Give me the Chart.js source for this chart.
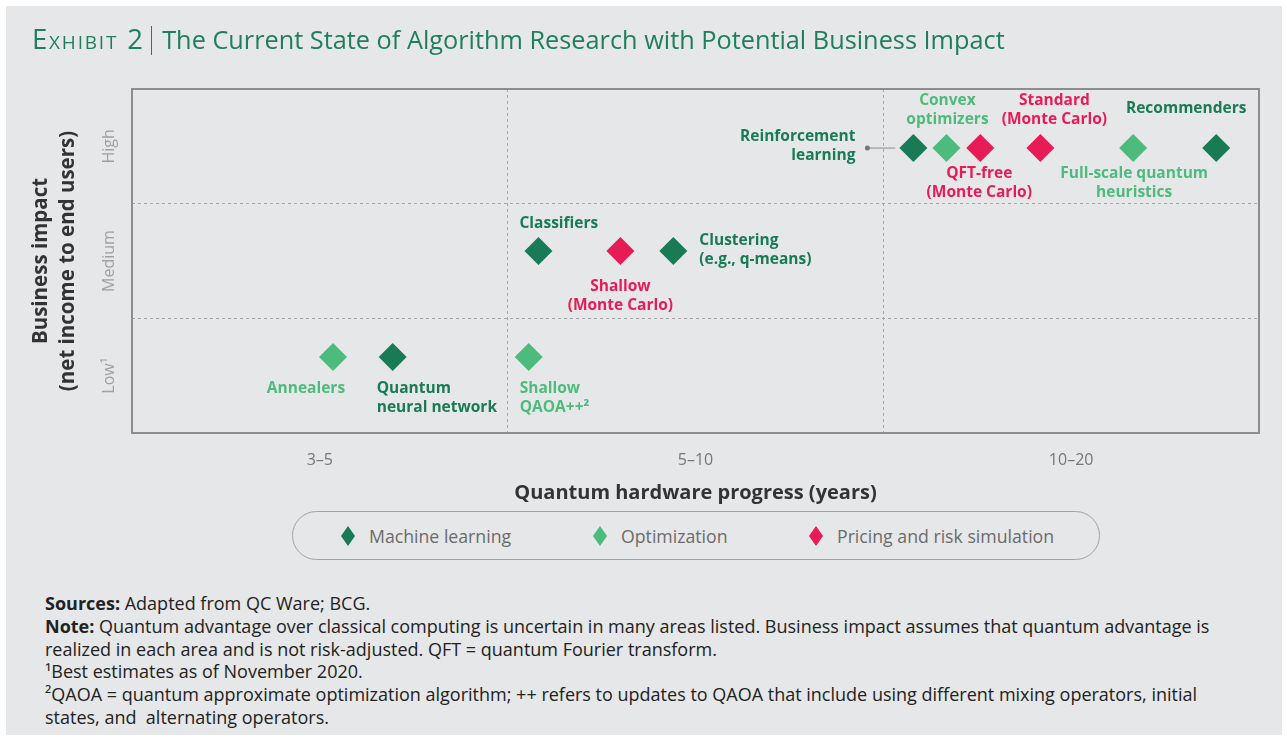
<!DOCTYPE html>
<html>
<head>
<meta charset="utf-8">
<script src="https://cdn.jsdelivr.net/npm/chart.js@4.4.0/dist/chart.umd.min.js"></script>
<style>
  html, body { margin: 0; padding: 0; background: #fff; }
  body { width: 1287px; height: 740px; position: relative; overflow: hidden; font-family: 'Open Sans', sans-serif; }
  #panel { position: absolute; left: 6px; top: 6px; width: 1276px; height: 729px; background: #e6e7e8; }
  #chart { position: absolute; left: 0; top: 0; }
  #title { position: absolute; left: 32px; top: 22px; font-size: 25.3px; line-height: 34px; color: #1f7f5c; white-space: nowrap; }
  #title .ex { font-variant: small-caps; font-size: 27.5px; letter-spacing: 1.8px; }
  #title .bar { display: inline-block; width: 1.5px; height: 29px; background: #1f7f5c; vertical-align: -6px; margin: 0 10px 0 6px; }
  #legend { position: absolute; left: 292px; top: 511px; width: 806px; height: 47px; border: 1.5px solid #a2a2a2; border-radius: 25px; }
  .item { position: absolute; top: 0; height: 47px; display: flex; align-items: center; font-size: 17.7px; color: #6b6b6b; white-space: nowrap; }
  .item svg { margin-right: 14px; }
  #notes { position: absolute; left: 45px; top: 592px; font-size: 18px; line-height: 22.8px; color: #222; white-space: nowrap; }
</style>
</head>
<body>
<div id="panel"></div>
<canvas id="chart" width="1287" height="510"></canvas>
<div id="title"><span class="ex">Exhibit 2</span><span class="bar"></span>The Current State of Algorithm Research with Potential Business Impact</div>
<div id="legend"></div>
<div id="notes">
  <b>Sources:</b> Adapted from QC Ware; BCG.<br>
  <b>Note:</b> Quantum advantage over classical computing is uncertain in many areas listed. Business impact assumes that quantum advantage is<br>
  realized in each area and is not risk-adjusted. QFT = quantum Fourier transform.<br>
  ¹Best estimates as of November 2020.<br>
  ²QAOA = quantum approximate optimization algorithm; ++ refers to updates to QAOA that include using different mixing operators, initial<br>
  states, and&nbsp; alternating operators.
</div>
<script>
// axis categories
const xLabels = ['3–5', '5–10', '10–20'];
const yLabels = ['Low¹', 'Medium', 'High'];
const gridSteps = [0, 0.5, 1, 1.5, 2, 2.5, 3];

const seriesNames = ['Machine learning', 'Optimization', 'Pricing and risk simulation'];
const seriesColors = ['#197a56', '#4dbb7c', '#e71c57'];

// Machine learning
const mlNames = ['Reinforcement\nlearning', 'Recommenders', 'Classifiers', 'Clustering\n(e.g., q-means)', 'Quantum\nneural network'];
const mlX = [2.08, 2.886, 1.082, 1.441, 0.694];
const mlY = [2.485, 2.485, 1.587, 1.587, 0.663];

// Optimization
const optNames = ['Convex\noptimizers', 'Full-scale quantum\nheuristics', 'Shallow\nQAOA++²', 'Annealers'];
const optX = [2.168, 2.665, 1.056, 0.535];
const optY = [2.485, 2.485, 0.663, 0.663];

// Pricing and risk simulation
const priceNames = ['QFT-free\n(Monte Carlo)', 'Standard\n(Monte Carlo)', 'Shallow\n(Monte Carlo)'];
const priceX = [2.258, 2.418, 1.30];
const priceY = [2.485, 2.485, 1.587];

// where each label sits relative to its marker
const labelPlacement = {
  'Reinforcement\nlearning': { dx: -58, dy: -11, align: 'right' },
  'Recommenders': { dx: -30, dy: -39, align: 'center' },
  'Classifiers': { dx: -19, dy: -27, align: 'left' },
  'Clustering\n(e.g., q-means)': { dx: 26, dy: -10, align: 'left' },
  'Quantum\nneural network': { dx: -16, dy: 32, align: 'left' },
  'Convex\noptimizers': { dx: 1, dy: -47, align: 'center' },
  'Full-scale quantum\nheuristics': { dx: 1, dy: 26, align: 'center' },
  'Shallow\nQAOA++²': { dx: -9, dy: 32, align: 'left' },
  'Annealers': { dx: -27, dy: 32, align: 'center' },
  'QFT-free\n(Monte Carlo)': { dx: -1, dy: 26, align: 'center' },
  'Standard\n(Monte Carlo)': { dx: 14, dy: -47, align: 'center' },
  'Shallow\n(Monte Carlo)': { dx: 0, dy: 36, align: 'center' }
};

const toPoints = (xs, ys) => xs.map((x, i) => ({ x: x, y: ys[i] }));
const seriesData = [toPoints(mlX, mlY), toPoints(optX, optY), toPoints(priceX, priceY)];
const seriesLabels = [mlNames, optNames, priceNames];

// legend (html, it sits in a rounded box)
const legendLeft = [48, 300, 516];
document.getElementById('legend').innerHTML = seriesNames.map((n, i) =>
  '<div class="item" style="left:' + legendLeft[i] + 'px"><svg width="14" height="20"><polygon points="7,0 14,10 7,20 0,10" fill="' + seriesColors[i] + '"/></svg>' + n + '</div>'
).join('');

const pointLabels = {
  id: 'pointLabels',
  beforeDatasetsDraw(chart) {
    const { ctx, chartArea: a } = chart;
    ctx.save();
    ctx.strokeStyle = '#8d8d8d';
    ctx.lineWidth = 2;
    ctx.strokeRect(a.left, a.top, a.right - a.left, a.bottom - a.top);
    ctx.restore();
  },
  afterDatasetsDraw(chart) {
    const ctx = chart.ctx;
    ctx.save();
    ctx.font = '700 15.5px "Open Sans"';
    ctx.textBaseline = 'middle';
    chart.data.datasets.forEach((ds, i) => {
      const meta = chart.getDatasetMeta(i);
      meta.data.forEach((pt, j) => {
        const name = seriesLabels[i][j];
        const p = labelPlacement[name];
        ctx.fillStyle = seriesColors[i];
        ctx.textAlign = p.align;
        name.split('\n').forEach((line, k) => {
          ctx.fillText(line, pt.x + p.dx, pt.y + p.dy + k * 19);
        });
        if (name === 'Reinforcement\nlearning') {
          ctx.strokeStyle = '#8d8d8d';
          ctx.lineWidth = 1;
          ctx.beginPath();
          ctx.moveTo(pt.x - 46, pt.y);
          ctx.lineTo(pt.x - 18, pt.y);
          ctx.stroke();
          ctx.fillStyle = '#777';
          ctx.beginPath();
          ctx.arc(pt.x - 46, pt.y, 2.5, 0, Math.PI * 2);
          ctx.fill();
        }
      });
    });
    ctx.restore();
  }
};

const gridColor = (c) => (c.tick && (c.tick.value === 1 || c.tick.value === 2)) ? '#a6a6a6' : 'transparent';

Chart.defaults.font.family = "'Open Sans', sans-serif";

new Chart(document.getElementById('chart'), {
  type: 'scatter',
  data: {
    datasets: seriesNames.map((n, i) => ({
      label: n,
      data: seriesData[i],
      pointStyle: 'rectRot',
      pointRadius: 14,
      pointHoverRadius: 14,
      borderWidth: 0,
      backgroundColor: seriesColors[i]
    }))
  },
  options: {
    responsive: false,
    animation: false,
    layout: { padding: { left: 27, top: 89, right: 28, bottom: 5 } },
    plugins: { legend: { display: false }, tooltip: { enabled: false } },
    scales: {
      x: {
        type: 'linear', min: 0, max: 3,
        afterBuildTicks: (s) => { s.ticks = gridSteps.map(v => ({ value: v })); },
        afterFit: (s) => { s.height = 72; },
        ticks: {
          autoSkip: false, maxRotation: 0, padding: 18,
          color: '#777', font: { size: 16 },
          callback: (v) => Number.isInteger(v) ? '' : xLabels[Math.floor(v)]
        },
        grid: { color: gridColor, lineWidth: 1, drawTicks: false },
        border: { display: false, dash: [3, 3] },
        title: {
          display: true, text: 'Quantum hardware progress (years)',
          color: '#333', font: { size: 20, weight: '700' }, padding: 0
        }
      },
      y: {
        type: 'linear', min: 0, max: 3,
        afterBuildTicks: (s) => { s.ticks = gridSteps.map(v => ({ value: v })); },
        afterFit: (s) => { s.width = 105; },
        ticks: {
          autoSkip: false, minRotation: 90, maxRotation: 90, crossAlign: 'center', padding: -8,
          color: '#a0a0a0', font: { size: 16 },
          callback: (v) => Number.isInteger(v) ? '' : yLabels[Math.floor(v)]
        },
        grid: { color: gridColor, lineWidth: 1, drawTicks: false },
        border: { display: false, dash: [3, 3] },
        title: {
          display: true, text: ['Business impact', '(net income to end users)'],
          color: '#333', font: { size: 20.5, weight: '700', lineHeight: 1.3 }, padding: { top: 1 }
        }
      }
    }
  },
  plugins: [pointLabels]
});
</script>
</body>
</html>
